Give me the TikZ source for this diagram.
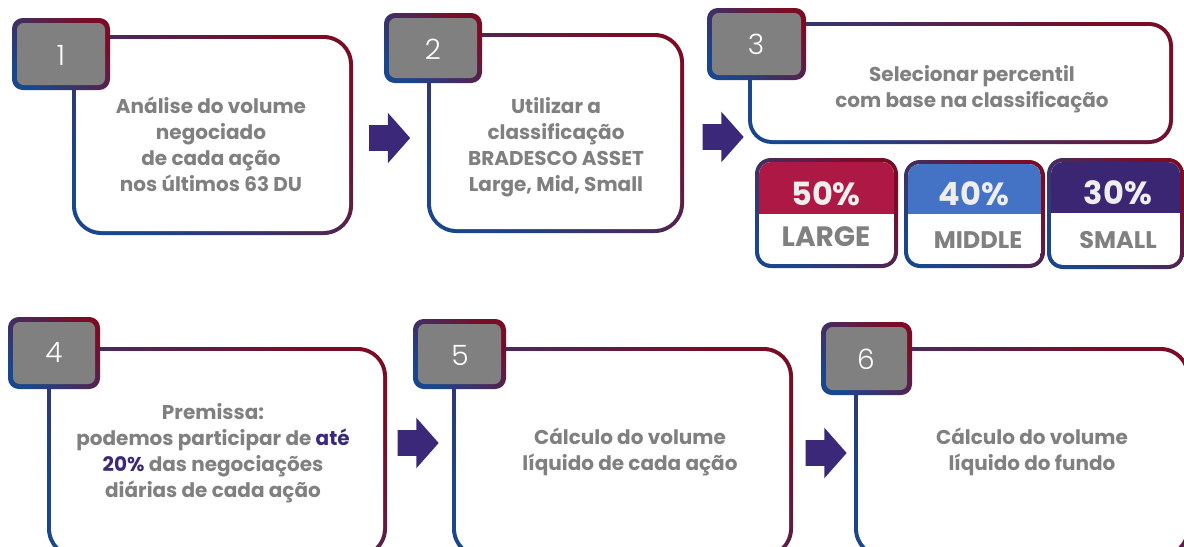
\documentclass[tikz,border=0pt]{standalone}
\usepackage{fontspec}
\setmainfont{Poppins}
\newfontfamily\numfont{Poppins Light}
\usetikzlibrary{shapes.arrows}
\definecolor{brdblue}{RGB}{25,70,140}
\definecolor{brdred}{RGB}{122,12,38}
\definecolor{badgegray}{RGB}{128,128,128}
\definecolor{txtgray}{RGB}{128,128,128}
\definecolor{arrowpurple}{RGB}{59,40,120}
\definecolor{largered}{RGB}{173,24,68}
\definecolor{midblue}{RGB}{68,114,196}
\definecolor{smallpurple}{RGB}{59,38,116}
\definecolor{pcttxt}{RGB}{238,238,238}

\begin{document}
\begin{tikzpicture}[x=0.75pt,y=0.75pt,yscale=-1,xscale=1,
  gradbrd/.style={top color=brdred, bottom color=brdblue, shading angle=-45},
  steptext/.style={align=center, text=txtgray, font=\fontsize{15}{19.5}\selectfont\bfseries},
  numtext/.style={text=white, font=\fontsize{21}{21}\selectfont\numfont},
  pcttext/.style={text=pcttxt, font=\fontsize{24}{24}\selectfont\bfseries},
  classtext/.style={text=txtgray, font=\fontsize{18}{18}\selectfont\bfseries},
  blockarrow/.style={shape=single arrow, fill=arrowpurple, inner xsep=0pt, inner ysep=9.4pt,
    minimum height=30.75pt, minimum width=0pt, single arrow head extend=9.4pt,
    single arrow tip angle=97, single arrow head indent=0pt}]
\clip (0,0) rectangle (1184,546);

%Shape: Rounded Rect [step 1]
\shade[gradbrd, rounded corners=22pt] (72,35) rectangle (353,235);
\fill[white, rounded corners=19pt] (76,39) rectangle (349,231);
\shade[gradbrd, rounded corners=8pt] (12,18) rectangle (110,90);
\fill[badgegray, rounded corners=5pt] (17,23) rectangle (105,85);
%Shape: Rounded Rect [step 2]
\shade[gradbrd, rounded corners=22pt] (427,33) rectangle (684,233);
\fill[white, rounded corners=19pt] (431,37) rectangle (680,229);
\shade[gradbrd, rounded corners=8pt] (384,13) rectangle (482,83);
\fill[badgegray, rounded corners=5pt] (389,18) rectangle (477,78);
%Shape: Rounded Rect [step 3]
\shade[gradbrd, rounded corners=18pt] (748,22) rectangle (1173,144);
\fill[white, rounded corners=15pt] (752,26) rectangle (1169,140);
\shade[gradbrd, rounded corners=8pt] (707,8) rectangle (806,80);
\fill[badgegray, rounded corners=5pt] (712,13) rectangle (801,75);
%Shape: Rounded Rect [step 4]
\shade[gradbrd, rounded corners=22pt] (47,347) rectangle (387,558);
\fill[white, rounded corners=19pt] (51,351) rectangle (383,554);
\shade[gradbrd, rounded corners=8pt] (8,317) rectangle (100,389);
\fill[badgegray, rounded corners=5pt] (13,322) rectangle (95,384);
%Shape: Rounded Rect [step 5]
\shade[gradbrd, rounded corners=22pt] (452,347) rectangle (793,558);
\fill[white, rounded corners=19pt] (456,351) rectangle (789,554);
\shade[gradbrd, rounded corners=8pt] (413,319) rectangle (506,389);
\fill[badgegray, rounded corners=5pt] (418,324) rectangle (501,384);
%Shape: Rounded Rect [step 6]
\shade[gradbrd, rounded corners=22pt] (854,347) rectangle (1190,558);
\fill[white, rounded corners=19pt] (858,351) rectangle (1186,554);
\shade[gradbrd, rounded corners=8pt] (821,322) rectangle (912,395);
\fill[badgegray, rounded corners=5pt] (826,327) rectangle (907,390);

%Shape: Rounded Rect [large]
\shade[gradbrd, rounded corners=12pt] (755,158) rectangle (898,268);
\begin{scope}
\clip[rounded corners=9pt] (759,162) rectangle (894,264);
\fill[white] (759,162) rectangle (894,264);
\fill[largered] (759,162) rectangle (894,214);
\end{scope}
%Shape: Rounded Rect [middle]
\shade[gradbrd, rounded corners=12pt] (904,160) rectangle (1045,268);
\begin{scope}
\clip[rounded corners=9pt] (908,164) rectangle (1041,264);
\fill[white] (908,164) rectangle (1041,264);
\fill[midblue] (908,164) rectangle (1041,214);
\end{scope}
%Shape: Rounded Rect [small]
\shade[gradbrd, rounded corners=12pt] (1047,158) rectangle (1184,269);
\begin{scope}
\clip[rounded corners=9pt] (1051,162) rectangle (1180,265);
\fill[white] (1051,162) rectangle (1180,265);
\fill[smallpurple] (1051,162) rectangle (1180,213);
\end{scope}

%Block Arrows
\node[blockarrow] (a12) at (384,138) {};
\node[blockarrow] (a23) at (717.5,137) {};
\node[blockarrow] (a45) at (412.5,443) {};
\node[blockarrow] (a56) at (820.5,453) {};

% Text Node
\node[numtext] (n1) at (61,55) {1};
\node[numtext] (n2) at (433,49) {2};
\node[numtext] (n3) at (756,44) {3};
\node[numtext] (n4) at (54,353) {4};
\node[numtext] (n5) at (460,355) {5};
\node[numtext] (n6) at (866,359) {6};
% Text Node
\node[steptext] (t1) at (211,144) {Análise do volume\\negociado\\de cada ação\\nos últimos 63 DU};
\node[steptext] (t2) at (556,147) {Utilizar a\\classificação\\BRADESCO ASSET\\Large, Mid, Small};
\node[steptext] (t3) at (972,89) {Selecionar percentil\\com base na classificação};
\node[steptext] (t4) at (213,453) {Premissa:\\podemos participar de \textcolor{arrowpurple}{até}\\\textcolor{arrowpurple}{20\%} das negociações\\diárias de cada ação};
\node[steptext] (t5) at (630,452) {Cálculo do volume\\líquido de cada ação};
\node[steptext] (t6) at (1032,452) {Cálculo do volume\\líquido do fundo};
% Text Node
\node[pcttext] (p1) at (826,194) {50\%};
\node[pcttext] (p2) at (974,194) {40\%};
\node[pcttext] (p3) at (1118,193) {30\%};
\node[classtext, font=\fontsize{21}{21}\selectfont\bfseries] (c1) at (826,237) {LARGE};
\node[classtext] (c2) at (978,240) {MIDDLE};
\node[classtext] (c3) at (1118,240) {SMALL};

\end{tikzpicture}
\end{document}
